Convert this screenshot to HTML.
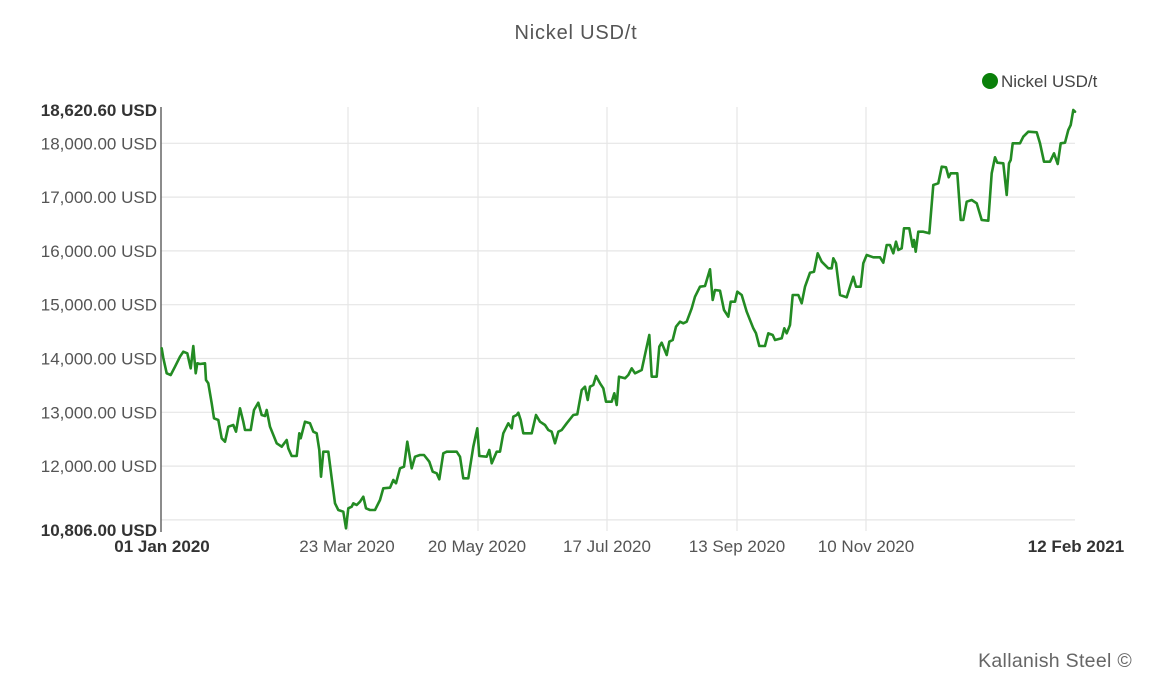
<!DOCTYPE html>
<html>
<head>
<meta charset="utf-8">
<style>
html,body{margin:0;padding:0;background:#fff;}
body{width:1150px;height:695px;overflow:hidden;}
svg{display:block;}
</style>
</head>
<body>
<svg width="1150" height="695" viewBox="0 0 1150 695" xmlns="http://www.w3.org/2000/svg" font-family="'Liberation Sans', Arial, sans-serif">
  <rect width="1150" height="695" fill="#fff"/>
  <!-- title -->
  <text x="576" y="39" text-anchor="middle" font-size="20" letter-spacing="0.8" fill="#555">Nickel USD/t</text>
  <!-- legend -->
  <circle cx="990" cy="81" r="8" fill="#0a800a"/>
  <text x="1001" y="87" font-size="17" fill="#444">Nickel USD/t</text>

  <!-- horizontal grid -->
  <g stroke="#e6e6e6" stroke-width="1.2">
    <line x1="161" y1="143.3" x2="1075" y2="143.3"/>
    <line x1="161" y1="197.1" x2="1075" y2="197.1"/>
    <line x1="161" y1="250.9" x2="1075" y2="250.9"/>
    <line x1="161" y1="304.7" x2="1075" y2="304.7"/>
    <line x1="161" y1="358.5" x2="1075" y2="358.5"/>
    <line x1="161" y1="412.3" x2="1075" y2="412.3"/>
    <line x1="161" y1="466.1" x2="1075" y2="466.1"/>
    <line x1="161" y1="519.9" x2="1075" y2="519.9"/>
    <!-- vertical grid -->
    <line x1="348" y1="107" x2="348" y2="531"/>
    <line x1="478" y1="107" x2="478" y2="531"/>
    <line x1="607" y1="107" x2="607" y2="531"/>
    <line x1="737" y1="107" x2="737" y2="531"/>
    <line x1="866" y1="107" x2="866" y2="531"/>
  </g>
  <!-- y axis -->
  <line x1="161" y1="107" x2="161" y2="532" stroke="#666" stroke-width="1.5"/>

  <!-- y labels -->
  <g font-size="17" text-anchor="end" fill="#555">
    <text x="157" y="116" font-weight="bold" fill="#333">18,620.60 USD</text>
    <text x="157" y="149.3">18,000.00 USD</text>
    <text x="157" y="203.1">17,000.00 USD</text>
    <text x="157" y="256.9">16,000.00 USD</text>
    <text x="157" y="310.7">15,000.00 USD</text>
    <text x="157" y="364.5">14,000.00 USD</text>
    <text x="157" y="418.3">13,000.00 USD</text>
    <text x="157" y="472.1">12,000.00 USD</text>
    <text x="157" y="536" font-weight="bold" fill="#333">10,806.00 USD</text>
  </g>
  <!-- x labels -->
  <g font-size="17" text-anchor="middle" fill="#555">
    <text x="162" y="552" font-weight="bold" fill="#333">01 Jan 2020</text>
    <text x="347" y="552">23 Mar 2020</text>
    <text x="477" y="552">20 May 2020</text>
    <text x="607" y="552">17 Jul 2020</text>
    <text x="737" y="552">13 Sep 2020</text>
    <text x="866" y="552">10 Nov 2020</text>
    <text x="1076" y="552" font-weight="bold" fill="#333">12 Feb 2021</text>
  </g>

  <!-- series -->
  <polyline fill="none" stroke="#238b23" stroke-width="2.6" stroke-linejoin="round" stroke-linecap="round"
    points="161.7,348.3 163.3,358 166.7,373.3 170.7,375 175,366.7 180,356.7 183.3,351.7 187.3,353.3 190.7,368.3 193.3,346 195.7,373.3 197.3,363.3 200,364 205,363.3 206,380 208.3,383.3 211.7,403.3 214,418.3 218.3,420 221.7,438.3 225,441.7 228.3,426.7 233.3,425 236,431.7 240,408.3 243.3,421.7 245,430 250.7,430 254,410 258.3,402.7 261.7,415 265,416 266.7,410 270,426.7 276.7,443.3 281.7,446.7 286.7,440 288.3,448.3 291.7,456 296.7,456 299.3,433.3 300.7,438.3 305,421.7 310,423.3 313.3,431.7 316.7,433.3 319.3,450 321,476.7 323.3,451.7 328.3,451.7 331.7,478.3 335,503.3 338.3,510 343.3,511.7 346,528.3 348.3,508.3 351.7,506.7 353.3,503.3 356.7,505 360,501.7 363.3,496.7 366,508.3 370,510 375,510 380,500 383.3,488.3 390,487.7 393.3,480 396,483.3 400,468.3 404,466.7 407.3,441.7 411.7,468.3 415,456.7 420,455 424,455 429.3,461.7 432.7,471.7 436.7,473.3 439.3,479.3 443.3,453.3 446.7,451.7 456.7,451.7 460,456.7 463.3,478.3 468.3,478.3 473.3,446.7 477.3,428.3 479.3,456 486.7,456.7 489.3,450 491.7,463.3 496.7,451.7 500,451.7 503.3,433.3 508.3,423.3 511.7,428.3 513.3,416.7 516.7,415 518.3,412.7 520.7,420 523.3,433.3 531.7,433.3 536,415 540,421.7 545,425 548.3,430 551.7,431.7 555,443.3 558.3,431.7 561.7,430 566.7,423.3 573.3,415 577.3,414.3 581.7,390 585,386.7 587.7,400 590,386.7 593.3,385 596,376 600,383.3 603.3,388.3 606,401.7 611.7,401.7 614.3,393.3 616.7,405 619,376.7 625,378.3 628.3,375 631.7,368.3 635,373.3 638.3,371.7 641.7,370 646,350 649.3,335 651.7,376.7 656.7,376.7 659.3,346.7 661.7,342.7 666.7,355 669.3,341.7 672.7,340 676,326.7 680,321.7 683.3,323.3 686.7,321.7 691.7,308.3 695,296.7 700,286.7 705,286 710,269.3 712.7,300 715,290 720,290.7 724,310 728.3,316.7 730.7,301.7 735,301.7 737.3,291.7 741.7,295 746.7,311.7 753.3,328.3 756,333.3 759.3,346 765,346 768.3,333.3 772.7,335 775,340 781.7,338.3 784.3,328.3 786.7,333.3 790,325 792.7,295 798.3,295 801.7,303.3 805,286.7 810,272.7 814,271.7 817.7,253.3 821.7,261.7 828.3,268.3 831.7,268.3 833.3,258.3 836,263.3 840,295 846.7,297.3 850,286.7 853.3,276.7 856,286.7 860.7,286.7 863.3,263.3 866.7,255 873.3,257.3 880,257.3 883.3,262.7 886.7,245 890,245 893.3,253.3 896,241.7 898.3,250 901.7,248.3 904,228.3 909.3,228.3 912.7,246.7 914,240 915.7,251.7 918.3,231.7 923.3,231.7 929.3,233.3 933.3,185 938.3,183.3 941.7,166.7 946,167.3 948.7,177.3 950.7,173.3 957.3,173.3 960.7,220 963.3,220 966.7,201.7 971.7,200 976.7,203.3 981.7,220 988.3,220.7 991.7,173.3 995,157.3 997.3,162.7 1003.3,163.3 1006.7,195 1009,163.3 1010.7,160 1012.7,143.3 1020,143.3 1023.3,136.7 1028.3,131.7 1036.7,132.3 1040,143.3 1044,161.7 1050,161.7 1054,153.3 1057.7,164 1060.7,143.3 1065,142.7 1068.3,130 1070.7,125 1073.3,110 1075,111.7"/>

  <!-- footer -->
  <text x="1132" y="667" text-anchor="end" font-size="19.5" letter-spacing="0.3" fill="#666">Kallanish Steel ©</text>
</svg>
</body>
</html>
